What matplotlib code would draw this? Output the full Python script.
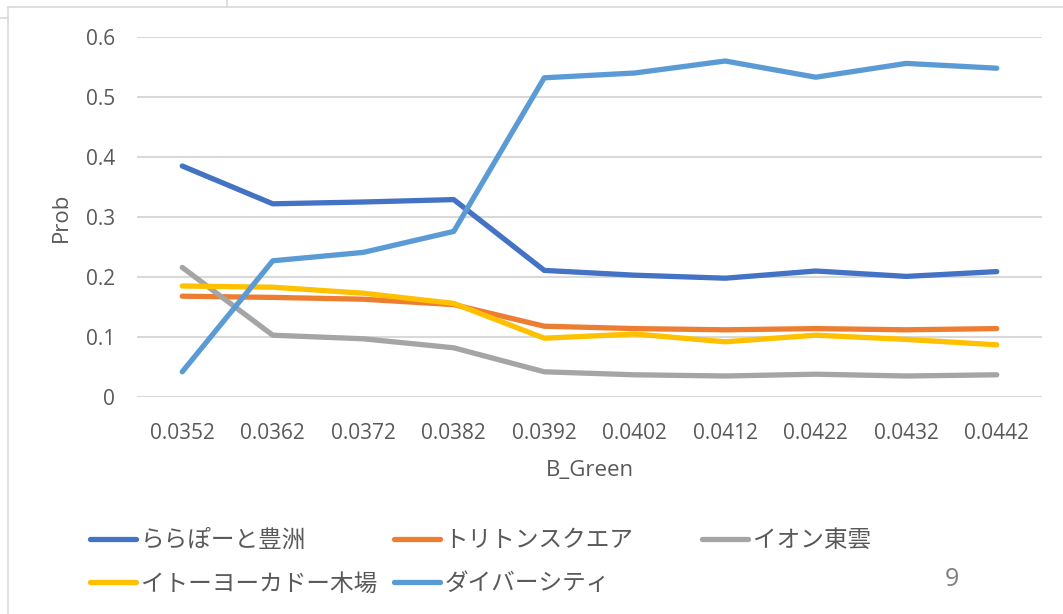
import matplotlib
matplotlib.use("Agg")
import matplotlib.pyplot as plt
from matplotlib.lines import Line2D

categories = ["0.0352", "0.0362", "0.0372", "0.0382", "0.0392",
              "0.0402", "0.0412", "0.0422", "0.0432", "0.0442"]
lalaport = [0.385, 0.322, 0.325, 0.329, 0.211, 0.203, 0.198, 0.210, 0.201, 0.209]
triton = [0.168, 0.166, 0.163, 0.154, 0.118, 0.114, 0.112, 0.114, 0.112, 0.114]
aeon = [0.216, 0.103, 0.097, 0.082, 0.042, 0.037, 0.035, 0.038, 0.035, 0.037]
itoyokado = [0.185, 0.183, 0.173, 0.156, 0.098, 0.105, 0.092, 0.103, 0.096, 0.087]
diver = [0.042, 0.227, 0.241, 0.276, 0.532, 0.540, 0.560, 0.533, 0.556, 0.548]
names = ["ららぽーと豊洲", "トリトンスクエア", "イオン東雲", "イトーヨーカドー木場", "ダイバーシティ"]
yticks = [0, 0.1, 0.2, 0.3, 0.4, 0.5, 0.6]
ytick_labels = ["0", "0.1", "0.2", "0.3", "0.4", "0.5", "0.6"]

colors = ["#4472C4", "#ED7D31", "#A5A5A5", "#FFC000", "#5B9BD5"]
series = [lalaport, triton, aeon, itoyokado, diver]

W, H = 1063, 614
fig = plt.figure(figsize=(W / 100, H / 100), dpi=100)
fig.patch.set_facecolor("white")

# sheet / chart borders
border_c = "#d9d9d9"
fig.add_artist(Line2D([8 / W, 1], [1 - 7 / H, 1 - 7 / H], color=border_c, lw=1.2))
fig.add_artist(Line2D([8 / W, 8 / W], [0, 1 - 7 / H], color=border_c, lw=1.2))
fig.add_artist(Line2D([0, 8 / W], [1 - 18 / H, 1 - 18 / H], color=border_c, lw=1.2))
fig.add_artist(Line2D([227 / W, 227 / W], [1 - 7 / H, 1], color=border_c, lw=1.2))

left, right, top, bottom = 137, 1042, 37, 397
ax = fig.add_axes([left / W, 1 - bottom / H, (right - left) / W, (bottom - top) / H])

x = list(range(len(categories)))
for vals, c, n in zip(series, colors, names):
    ax.plot(x, vals, color=c, lw=3.8, label=n, solid_capstyle="round",
            solid_joinstyle="round", zorder=3)

ax.set_xlim(-0.5, len(categories) - 0.5)
ax.set_ylim(0, 0.6)
ax.set_yticks(yticks)
ax.set_yticklabels(ytick_labels)
ax.set_xticks(x)
ax.set_xticklabels(categories)
ax.yaxis.grid(True, color="#d9d9d9", lw=1.5, zorder=0)
ax.set_axisbelow(True)
for s in ax.spines.values():
    s.set_visible(False)
ax.tick_params(axis="both", length=0, labelsize=15, labelcolor="#595959")
ax.tick_params(axis="y", pad=16)
ax.tick_params(axis="x", pad=19)
for lab in ax.get_xticklabels() + ax.get_yticklabels():
    lab.set_family(["Open Sans", "DejaVu Sans"])

ax.set_xlabel("B_Green", fontsize=16, color="#595959", labelpad=11,
              family=["Open Sans", "DejaVu Sans"])
ax.set_ylabel("Prob", fontsize=16, color="#595959", labelpad=10,
              family=["Open Sans", "DejaVu Sans"])

handles = ax.get_lines()
columns = [([0, 3], 71), ([1, 4], 375), ([2], 683)]
for idxs, xpx in columns:
    leg = fig.legend([handles[i] for i in idxs], [names[i] for i in idxs],
                     ncol=1, loc="upper left", bbox_to_anchor=(xpx / W, 1 - 510 / H),
                     frameon=False, handlelength=1.95, handletextpad=0.2,
                     borderpad=0.3, labelspacing=0.87,
                     prop={"family": ["Noto Sans CJK JP", "DejaVu Sans"], "size": 17})
    for t in leg.get_texts():
        t.set_color("#595959")

fig.text(952 / W, 1 - 580 / H, "9", fontsize=18, color="#7f7f7f",
         ha="center", va="center", family=["Open Sans", "DejaVu Sans"])

fig.savefig("out.png", dpi=100)
